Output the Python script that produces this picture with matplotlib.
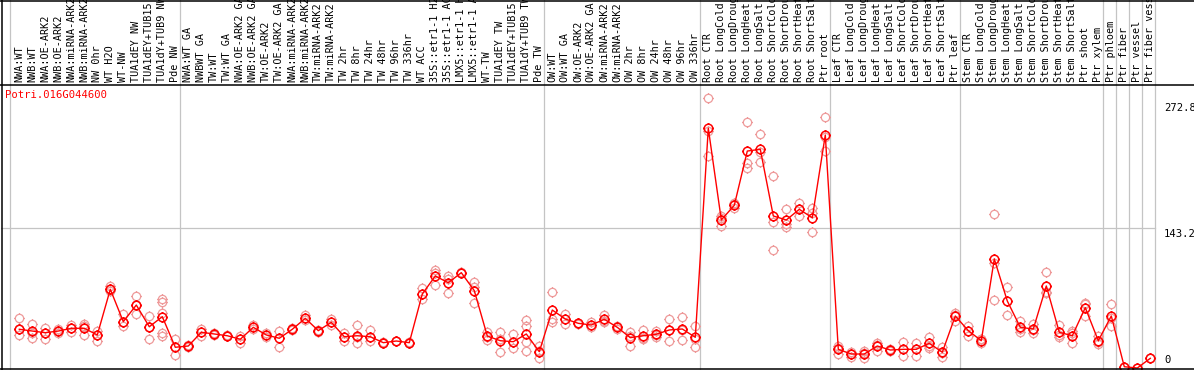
import matplotlib
matplotlib.use("Agg")
import matplotlib.pyplot as plt
from matplotlib.path import Path

gene = "Potri.016G044600"

samples = [
    "NWA:WT", "NWB:WT", "NWA:OE-ARK2", "NWB:OE-ARK2", "NWA:miRNA-ARK2", "NWB:miRNA-ARK2",
    "NW 0hr", "WT H2O", "WT-NW", "TUA1dEY NW", "TUA1dEY+TUB15 NW", "TUA1dY+TUB9 NW", "Pde NW",
    "NWA:WT GA", "NWBWT GA", "TW:WT", "TW:WT GA", "NWA:OE-ARK2 GA", "NWB:OE-ARK2 GA",
    "TW:OE-ARK2", "TW:OE-ARK2 GA", "NWA:miRNA-ARK2", "NWB:miRNA-ARK2", "TW:miRNA-ARK2",
    "TW:miRNA-ARK2", "TW 2hr", "TW 8hr", "TW 24hr", "TW 48hr", "TW 96hr", "TW 336hr",
    "WT ACC", "35S::etr1-1 H2O", "35S::etr1-1 ACC", "LMX5::etr1-1 H2O", "LMX5::etr1-1 ACC",
    "WT-TW", "TUA1dEY TW", "TUA1dEY+TUB15 TW", "TUA1dY+TUB9 TW", "Pde TW",
    "OW:WT", "OW:WT GA", "OW:OE-ARK2", "OW:OE-ARK2 GA", "OW:miRNA-ARK2", "OW:miRNA-ARK2",
    "OW 2hr", "OW 8hr", "OW 24hr", "OW 48hr", "OW 96hr", "OW 336hr",
    "Root CTR", "Root LongCold", "Root LongDrought", "Root LongHeat", "Root LongSalt",
    "Root ShortCold", "Root ShortDrought", "Root ShortHeat", "Root ShortSalt", "Ptr root",
    "Leaf CTR", "Leaf LongCold", "Leaf LongDrought", "Leaf LongHeat", "Leaf LongSalt",
    "Leaf ShortCold", "Leaf ShortDrought", "Leaf ShortHeat", "Leaf ShortSalt", "Ptr leaf",
    "Stem CTR", "Stem LongCold", "Stem LongDrought", "Stem LongHeat", "Stem LongSalt",
    "Stem ShortCold", "Stem ShortDrought", "Stem ShortHeat", "Stem ShortSalt", "Ptr shoot",
    "Ptr xylem", "Ptr phloem", "Ptr fiber", "Ptr vessel", "Ptr fiber vessel",
]

# index of the last sample in each group (a separator follows it)
group_ends = [12, 40, 52, 62, 72, 83, 84, 85, 86, 87]

means = [
    39.6, 37.8, 36.1, 37.8, 40.6, 40.6, 33.8, 80.5, 47.4, 64.4, 42.2, 52.5, 21.2,
    22.5, 36.5, 34.8, 33.0, 29.4, 41.6, 33.8, 30.4, 39.6, 50.8, 38.2, 46.7, 32.0,
    33.0, 32.0, 25.9, 27.6, 25.9, 75.7, 94.1, 87.2, 97.5, 79.1, 32.7, 27.9, 26.9,
    34.8, 16.7,
    59.3, 50.1, 45.7, 44.0, 49.8, 41.6, 31.0, 33.0, 34.5, 38.9, 39.9, 31.4,
    245.2, 151.4, 166.4, 221.9, 223.7, 155.5, 151.4, 162.3, 153.7, 238.3,
    19.1, 14.3, 14.3, 22.5, 18.4, 19.1, 19.1, 25.3, 16.1, 53.2,
    38.2, 27.9, 111.5, 68.5, 41.6, 39.9, 83.9, 36.5, 33.0, 61.7, 27.9,
    53.2, 1.3, 0.0, 9.9,
]

reps = [
    [50.8, 33.8, 39.9], [45.0, 31.0, 35.5], [40.6, 29.4, 36.1], [39.6, 36.1, 37.8],
    [44.0, 37.1, 40.6], [45.0, 33.8, 43.0], [37.8, 27.9, 33.8], [83.9, 80.5, 79.1],
    [54.9, 43.0, 47.4], [73.6, 55.2, 64.4], [53.5, 29.4, 42.2],
    [70.3, 67.2, 56.6, 36.1, 32.7], [29.4, 13.0, 21.2],
    [23.5, 21.2], [39.6, 33.0], [36.1, 33.8], [33.8, 32.7], [33.0, 25.3],
    [44.0, 39.6], [35.5, 32.0], [38.2, 21.8], [40.6, 38.9], [54.2, 49.1],
    [38.9, 37.1], [50.1, 44.0], [35.5, 27.6], [44.0, 25.3, 31.7], [38.9, 27.9],
    [26.9, 25.3], [27.6, 27.6], [26.9, 25.3], [81.5, 70.3], [84.9, 100.2, 97.2],
    [94.1, 76.4, 91.3], [98.5, 96.9], [88.3, 66.2, 82.8], [37.1, 32.0, 28.9],
    [37.1, 16.7, 30.0], [34.5, 20.1, 26.3], [49.1, 43.0, 26.9, 17.7],
    [22.5, 9.9, 17.7],
    [78.0, 49.8, 47.4], [55.2, 44.7], [46.3, 45.0], [46.7, 42.2], [54.2, 46.7, 48.4],
    [43.3, 39.6], [37.1, 22.8, 33.0], [38.9, 30.4, 30.0], [38.2, 31.4, 33.8],
    [49.8, 27.6, 39.2], [51.9, 28.6, 39.2], [43.0, 21.2, 30.0],
    [275.8, 216.8, 242.7], [155.5, 145.5, 153.1], [168.5, 163.3, 167.4],
    [251.3, 210.0, 204.3], [239.3, 210.4, 221.2], [196.4, 149.6, 120.7],
    [162.3, 144.5, 147.3], [169.1, 155.5, 162.3], [164.0, 138.8, 158.5],
    [256.4, 221.9, 236.6],
    [22.5, 14.3, 20.5], [16.7, 11.6, 14.6], [17.7, 9.9, 15.3], [25.9, 17.7, 23.8],
    [19.1, 17.7], [26.3, 12.6], [25.9, 12.6], [32.0, 20.8, 22.8], [21.8, 10.9, 15.3],
    [56.6, 48.4, 54.5],
    [43.3, 33.0], [29.4, 25.3, 29.4], [157.2, 107.1, 69.6], [82.5, 54.2],
    [48.1, 36.5, 40.2], [45.0, 35.5, 39.2], [97.9, 76.4, 77.4], [44.0, 31.4, 34.1],
    [38.2, 25.3, 35.8], [65.5, 53.5, 66.2], [33.0, 24.5, 26.3],
    [65.2, 43.3, 51.1], [1.0], [0.0], [9.9],
]

tick_values = [272.8, 143.2, 0]

# ---------------------------------------------------------------- layout
W, H = 1194, 370
fig = plt.figure(figsize=(W / 100, H / 100), dpi=100)
fig.patch.set_facecolor("white")

px0, step = 19.3, 13.0           # pixel x of first sample, pixels per sample
y0px, slope = 368.0, 0.9777      # pixel y of value 0, pixels per unit
xl = ((1 - px0) / step, (W - px0) / step)
plot_top = 85

ax = fig.add_axes([1 / W, 0, (W - 1) / W, (H - plot_top) / H])
ax.set_xlim(*xl)
ax.set_ylim((y0px - H) / slope, (y0px - plot_top) / slope)
ax.axis("off")

axt = fig.add_axes([1 / W, (H - plot_top) / H, (W - 1) / W, plot_top / H])
axt.set_xlim(*xl)
axt.set_ylim(plot_top, 0)
axt.axis("off")

grid_c = "#c4c4c4"
seps = [-0.715] + [g + 0.385 for g in group_ends]
for s in seps:
    ax.axvline(s, color=grid_c, lw=0.9, zorder=1)
    axt.axvline(s, color=grid_c, lw=0.9, zorder=1)
ax.plot([xl[0], seps[-1]], [tick_values[1]] * 2, color=grid_c, lw=0.9, zorder=1)

# marker: ring with four small outside ticks
circ = Path.unit_circle()
tv, tc = [], []
for dx, dy in [(0, 1), (0, -1), (1, 0), (-1, 0)]:
    tv += [(dx, dy), (dx * 1.27, dy * 1.27)]
    tc += [Path.MOVETO, Path.LINETO]
mk = Path(list(circ.vertices) + tv, list(circ.codes) + tc)

xs = list(range(len(samples)))
rep_c = "#ee9a9a"
for i, r in enumerate(reps):
    ax.plot([i] * len(r), r, ls="none", marker=mk, ms=7.6, mfc="none",
            mec=rep_c, mew=0.9, zorder=2, clip_on=False)
ax.plot(xs, means, color="#ff0000", lw=1.0, zorder=3, clip_on=False)
ax.plot(xs, means, ls="none", marker=mk, ms=7.8, mfc="none", mec="#ff0000",
        mew=1.1, zorder=4, clip_on=False)

mono = "DejaVu Sans Mono"
for i, s in enumerate(samples):
    axt.text(i, 82, s, rotation=90, ha="center", va="bottom", fontsize=7.3,
             family=mono, color="black", clip_on=False)

lab_x = (1164 - px0) / step
offs = {272.8: (-2, "top"), 143.2: (-1, "top"), 0: (3, "bottom")}
for v in tick_values:
    dy, va = offs[v]
    ax.annotate(f"{v:g}", xy=(lab_x, v), xytext=(0, dy), textcoords="offset pixels",
                ha="left", va=va, fontsize=7.6, family=mono, color="black")

fig.text(5 / W, 1 - 90 / H, gene, color="#ff0000", ha="left", va="top",
         fontsize=7.6, family=mono)

# frame
ov = fig.add_axes([0, 0, 1, 1])
ov.set_xlim(0, W)
ov.set_ylim(H, 0)
ov.axis("off")
ov.patch.set_alpha(0)
for yy in (0.5, plot_top, H - 1.5):
    ov.plot([0, W], [yy, yy], color="black", lw=1.1)
ov.plot([1.5, 1.5], [0, H], color="black", lw=1.1)

fig.savefig("out.png", dpi=100, facecolor="white")
